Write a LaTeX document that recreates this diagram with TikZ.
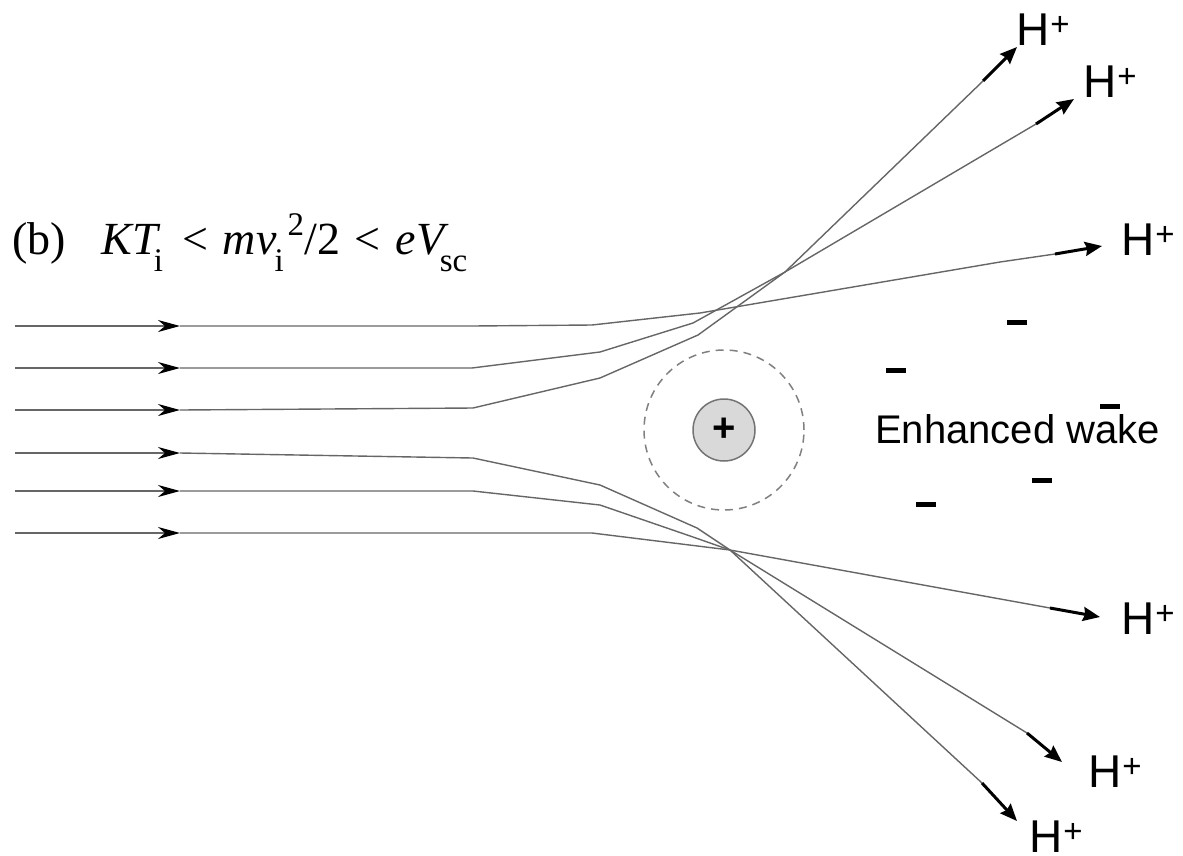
\documentclass[tikz,border=0pt]{standalone}
\usepackage{fontspec}
\setmainfont{Liberation Sans}
\newfontfamily\timesfont{Liberation Serif}
\usetikzlibrary{arrows.meta}
\newcommand{\lowsub}[1]{\raisebox{-17pt}{\fontsize{33}{34}\selectfont #1}}
\newcommand{\highsup}[1]{\raisebox{19pt}{\fontsize{33}{34}\selectfont #1}}
\newcommand{\hion}{H\kern1pt\raisebox{10pt}{\fontsize{33}{33}\selectfont +}}

\begin{document}
\begin{tikzpicture}[x=1pt,y=-1pt,line join=round,
    incoming/.style={line width=1.4pt,draw=black!60,
      -{Stealth[length=22pt,width=12pt,inset=7pt,color=black]}},
    traj/.style={line width=1.4pt,draw=black!60},
    outgoing/.style={line width=3pt,
      -{Stealth[length=17pt,width=14pt,inset=2pt]}},
    ionlabel/.style={font=\fontsize{46}{50}\selectfont,anchor=base west,
      inner sep=0pt},
    minusbar/.style={line width=5pt}]
    \useasboundingbox (0,0) rectangle (1183,855);

    \node[font=\timesfont\fontsize{46}{50}\selectfont,anchor=base west,
      inner sep=0pt] (cond) at (12,254)
      {(b)\hspace{36pt}\textit{KT}\kern-7pt\lowsub{i}\hspace{20pt}<\hspace{14pt}%
       \textit{mv}\kern-2pt\lowsub{i}\kern4pt\highsup{2}/2\hspace{14pt}<\hspace{16pt}%
       \textit{eV}\kern-9pt\lowsub{sc}};

    % incoming ions
    \foreach \y in {326,368,410,453,491,533}
      \draw[incoming] (15,\y) -- (180,\y);

    % deflected trajectories
    \draw[traj] (180,326) -- (472,326) -- (592,325) -- (700,313)
      -- (1000,262) -- (1055,254);
    \draw[traj] (180,368) -- (472,368) -- (600,352) -- (693,323)
      -- (785,272) -- (1036,124);
    \draw[traj] (180,410) -- (473,408) -- (600,378) -- (698,335)
      -- (785,272) -- (983,81);
    \draw[traj] (180,453) -- (473,458) -- (600,485) -- (697,528)
      -- (730,550) -- (982,783);
    \draw[traj] (180,491) -- (473,491) -- (600,505) -- (693,537)
      -- (730,550) -- (1027,733);
    \draw[traj] (180,533) -- (592,533) -- (730,550) -- (1050,608);

    \draw[outgoing] (1055,254) -- (1102,246);
    \draw[outgoing] (1036,124) -- (1074,99);
    \draw[outgoing] (983,81) -- (1017,47);
    \draw[outgoing] (982,783) -- (1017,821);
    \draw[outgoing] (1027,733) -- (1062,762);
    \draw[outgoing] (1050,608) -- (1100,617);

    % grain and sheath
    \node[circle,draw=black!50,line width=1.5pt,dash pattern=on 8pt off 6pt,
      minimum size=160pt,inner sep=0pt] (sheath) at (724,430) {};
    \node[circle,draw=black!55,fill=black!15,line width=1.5pt,
      minimum size=62pt,inner sep=0pt,font=\fontsize{40}{40}\selectfont\bfseries]
      (ion) at (724,430) {+};

    % wake
    \node[font=\fontsize{40}{44}\selectfont,anchor=base west,inner sep=0pt]
      (wake) at (875,443) {Enhanced wake};
    \foreach \x/\y in {1017/322,896/370,1110/406,1042/480,926/504}
      \draw[minusbar] (\x-10,\y) -- (\x+10,\y);

    \node[ionlabel] (hp1) at (1016,45) {\hion};
    \node[ionlabel] (hp2) at (1083,97) {\hion};
    \node[ionlabel] (hp3) at (1121,255) {\hion};
    \node[ionlabel] (hp4) at (1121,634) {\hion};
    \node[ionlabel] (hp5) at (1088,787) {\hion};
    \node[ionlabel] (hp6) at (1029,852) {\hion};
\end{tikzpicture}
\end{document}
